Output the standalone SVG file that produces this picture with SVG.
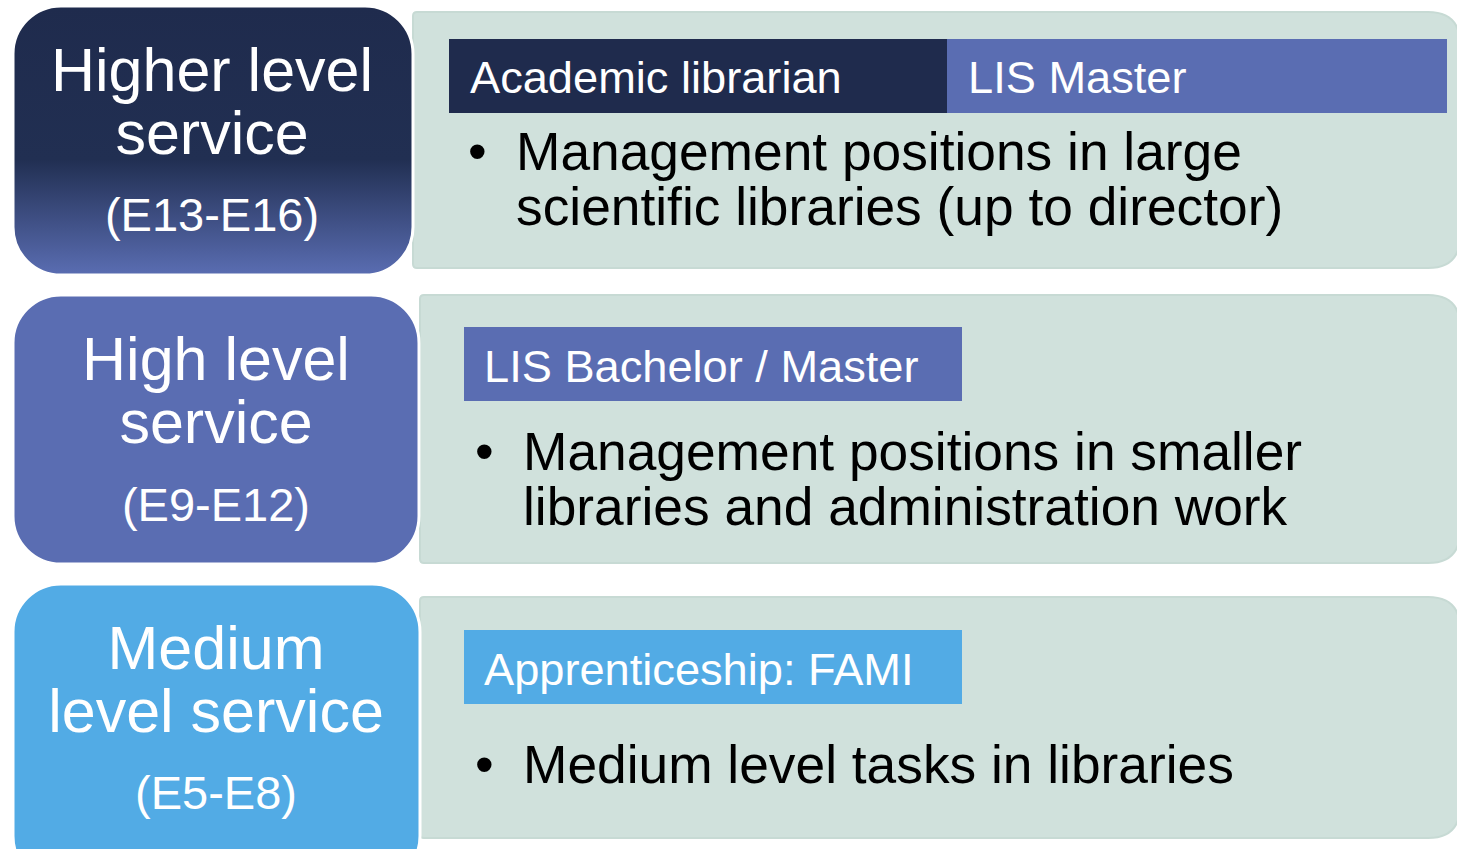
<svg xmlns="http://www.w3.org/2000/svg" width="1457" height="849" viewBox="0 0 1457 849">
<defs>
<linearGradient id="g1" x1="0" y1="0" x2="0" y2="1">
<stop offset="0" stop-color="#1F2B4D"/>
<stop offset="0.57" stop-color="#212F52"/>
<stop offset="1" stop-color="#5A6DB2"/>
</linearGradient>
</defs>
<style>
.node{stroke:#FFFFFF;stroke-width:3}
.panel{fill:#D0E1DC;stroke:#C7DAD4;stroke-width:2}
.lt{font-family:"Liberation Sans",Arial,sans-serif;fill:#FFFFFF;text-anchor:middle}
.big{font-size:61px}
.code{font-size:47px}
.hd{font-family:"Liberation Sans",Arial,sans-serif;font-size:45.2px;fill:#FFFFFF}
.bt{font-family:"Liberation Sans",Arial,sans-serif;font-size:53.3px;fill:#000000}
</style>
<rect width="1457" height="849" fill="#FFFFFF"/>

<g id="panel-higher">
<path class="panel" d="M417 12 H1428 Q1460 12 1460 44 V236 Q1460 268 1428 268 H417 Q413 268 413 264 V16 Q413 12 417 12 Z"/>
<rect x="449" y="39" width="499" height="74" fill="#1F2B4D"/>
<rect x="947" y="39" width="500" height="74" fill="#5A6DB2"/>
<text class="hd" x="470" y="93">Academic librarian</text>
<text class="hd" x="968" y="93">LIS Master</text>
<text class="bt" x="468" y="170">•</text>
<text class="bt" x="516" y="170">Management positions in large</text>
<text class="bt" x="516" y="225">scientific libraries (up to director)</text>
</g>

<g id="panel-high">
<path class="panel" d="M424 295 H1428 Q1460 295 1460 327 V531 Q1460 563 1428 563 H424 Q420 563 420 559 V299 Q420 295 424 295 Z"/>
<rect x="464" y="327" width="498" height="74" fill="#5A6DB2"/>
<text class="hd" x="484" y="382">LIS Bachelor / Master</text>
<text class="bt" x="475" y="470">•</text>
<text class="bt" x="523" y="470">Management positions in smaller</text>
<text class="bt" x="523" y="525">libraries and administration work</text>
</g>

<g id="panel-medium">
<path class="panel" d="M424 597 H1428 Q1460 597 1460 629 V806 Q1460 838 1428 838 H424 Q420 838 420 834 V601 Q420 597 424 597 Z"/>
<rect x="464" y="630" width="498" height="74" fill="#52ABE5"/>
<text class="hd" x="484" y="685">Apprenticeship: FAMI</text>
<text class="bt" x="475" y="783">•</text>
<text class="bt" x="523" y="783">Medium level tasks in libraries</text>
</g>

<g id="node-higher">
<rect class="node" x="13" y="6" width="400" height="269" rx="48" fill="url(#g1)"/>
<text class="lt big" x="212" y="91">Higher level</text>
<text class="lt big" x="212" y="154">service</text>
<text class="lt code" x="212" y="231">(E13-E16)</text>
</g>

<g id="node-high">
<rect class="node" x="13" y="295" width="406" height="269" rx="48" fill="#5A6DB2"/>
<text class="lt big" x="216" y="380">High level</text>
<text class="lt big" x="216" y="443">service</text>
<text class="lt code" x="216" y="521">(E9-E12)</text>
</g>

<g id="node-medium">
<rect class="node" x="13" y="584" width="407" height="300" rx="48" fill="#52ABE5"/>
<text class="lt big" x="216" y="669">Medium</text>
<text class="lt big" x="216" y="732">level service</text>
<text class="lt code" x="216" y="809">(E5-E8)</text>
</g>

<g id="connectors"></g>
</svg>
